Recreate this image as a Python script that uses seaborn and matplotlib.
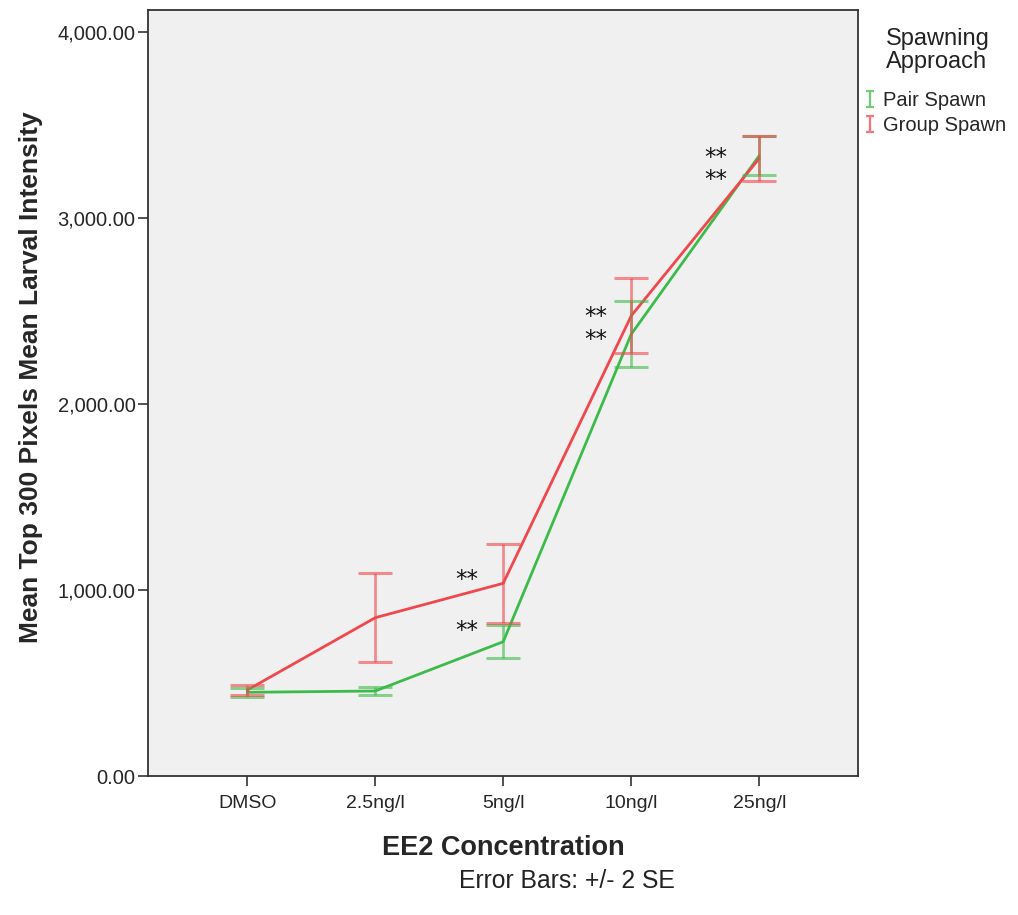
import matplotlib
matplotlib.use("Agg")
import matplotlib.pyplot as plt
import seaborn as sns
import pandas as pd
import numpy as np
from matplotlib.ticker import FuncFormatter
from matplotlib.path import Path
from matplotlib.lines import Line2D

categories = ["DMSO", "2.5ng/l", "5ng/l", "10ng/l", "25ng/l"]
pair_mean = [450, 457, 722, 2375, 3335]
pair_low = [427, 437, 633, 2197, 3231]
pair_high = [473, 477, 812, 2554, 3440]
group_mean = [462, 851, 1036, 2474, 3320]
group_low = [437, 611, 820, 2272, 3199]
group_high = [487, 1090, 1250, 2676, 3442]
series = ["Pair Spawn", "Group Spawn"]
star_x = [1.715, 1.715, 2.724, 2.724, 3.662, 3.662]
star_y = [1081, 806, 2495, 2371, 3347, 3231]

green = "#3dbb4a"
red = "#f0474c"

sns.set_theme(style="white")
plt.rcParams['font.family'] = ['Liberation Sans', 'DejaVu Sans']

df = pd.DataFrame({
    "conc": categories * 2,
    "value": pair_mean + group_mean,
    "approach": [series[0]] * 5 + [series[1]] * 5,
})

fig = plt.figure(figsize=(10.18, 9.15), dpi=100)
ax = fig.add_axes([0.1454, 0.1519, 0.8426 - 0.1454, 0.989 - 0.1519])
ax.set_facecolor("#f0f0f0")

sns.pointplot(data=df, x="conc", y="value", hue="approach", order=categories,
              hue_order=series, palette=[green, red], markers="", linestyles="-",
              errorbar=None, ax=ax, legend=False, lw=2)

xs = np.arange(len(categories))
for mean, lo, hi, col in [(pair_mean, pair_low, pair_high, green),
                          (group_mean, group_low, group_high, red)]:
    mean = np.array(mean); lo = np.array(lo); hi = np.array(hi)
    ax.errorbar(xs, mean, yerr=[mean - lo, hi - mean], fmt="none", ecolor=col,
                elinewidth=2, capsize=12, capthick=2.2, alpha=0.6)

ax.set_xlim(-0.775, 4.77)
ax.set_ylim(0, 4118)
ax.set_yticks([0, 1000, 2000, 3000, 4000])
ax.yaxis.set_major_formatter(FuncFormatter(lambda v, p: f"{v:,.2f}"))
ax.tick_params(axis="both", direction="out", length=7, width=1.2, color="#333333",
               bottom=True, left=True)
ax.tick_params(axis="y", labelsize=14.5, pad=2)
ax.tick_params(axis="x", labelsize=14, pad=7)
for s in ax.spines.values():
    s.set_color("#333333")
    s.set_linewidth(1.3)

ax.set_xlabel("EE2 Concentration", fontsize=19.5, fontweight="bold", labelpad=16)
ax.set_ylabel("Mean Top 300 Pixels Mean Larval Intensity", fontsize=19,
              fontweight="bold")
ax.yaxis.set_label_coords(-0.148, 0.521)

for sx, sy in zip(star_x, star_y):
    ax.annotate("**", xy=(sx, sy), xytext=(0, -11), textcoords="offset pixels",
                fontsize=16.5, ha="center", va="baseline", color="#111111",
                family="DejaVu Sans")

fig.text(0.557, 0.037, "Error Bars: +/- 2 SE", fontsize=17.8, ha="center", va="center",
         color="#222222")

fig.text(886 / 1018, 1 - 28 / 915, "Spawning\nApproach", fontsize=17, ha="left",
         va="top", color="#222222", linespacing=1.05)

I_path = Path([(-0.5, 1), (0.5, 1), (0, 1), (0, -1), (-0.5, -1), (0.5, -1)],
              [Path.MOVETO, Path.LINETO, Path.MOVETO, Path.LINETO, Path.MOVETO, Path.LINETO])
handles = [Line2D([], [], linestyle="none", marker=I_path, markersize=11,
                  markerfacecolor="none", markeredgecolor=c, markeredgewidth=1.6, alpha=0.75)
           for c in (green, red)]

fig.legend(handles=handles, labels=series, loc="upper left",
           bbox_to_anchor=(864 / 1018, 1 - 91 / 915), frameon=False, fontsize=14.5,
           handlelength=0.6, handletextpad=0.35, labelspacing=0.3, borderpad=0.0,
           borderaxespad=0.0)

fig.savefig("out.png", dpi=100)
